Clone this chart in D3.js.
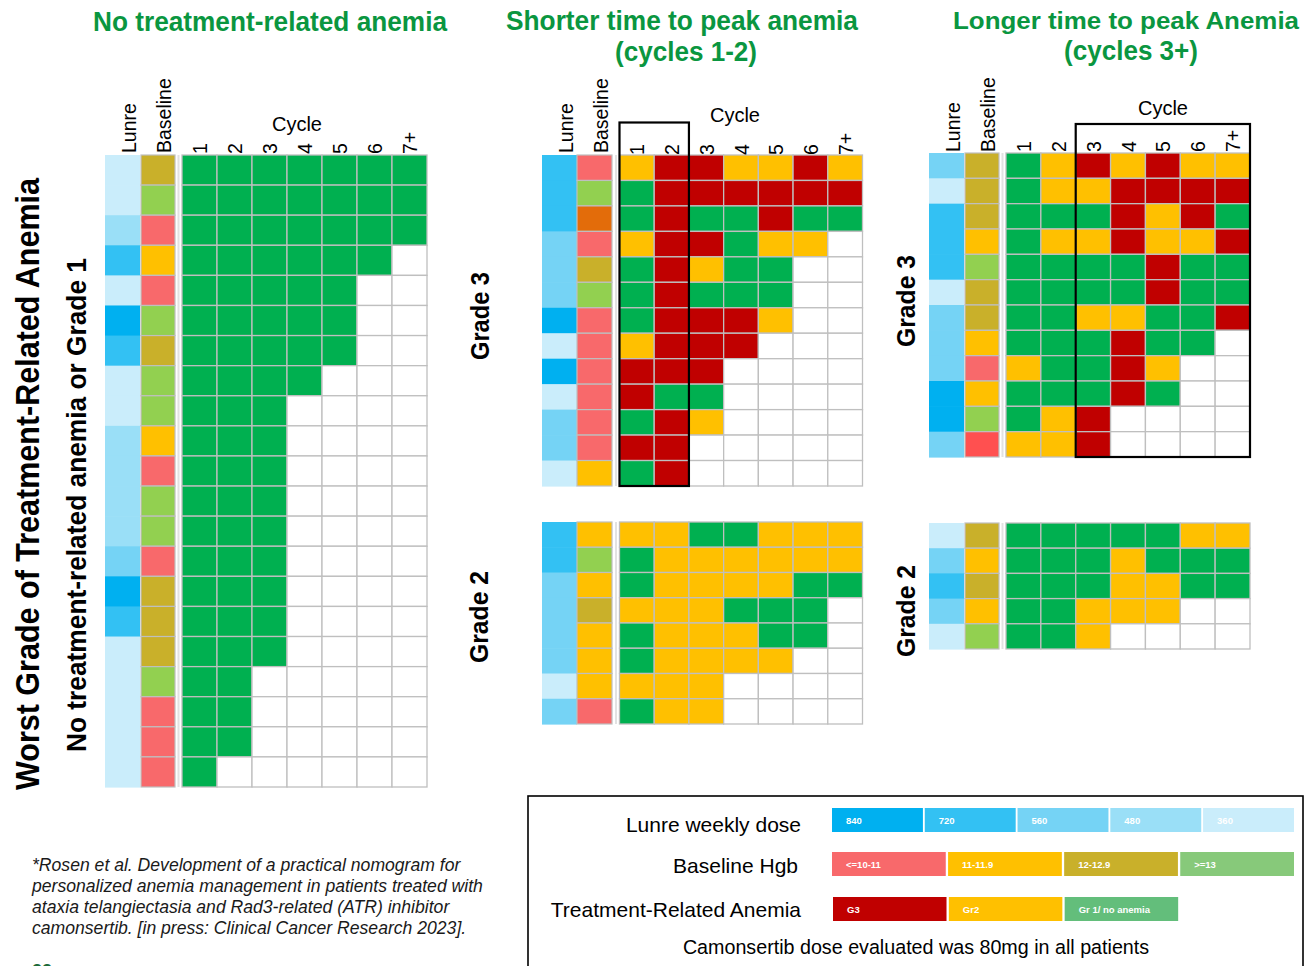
<!DOCTYPE html>
<html>
<head>
<meta charset="utf-8">
<script src="https://cdn.jsdelivr.net/npm/d3@7"></script>
<style>
  html, body { margin: 0; padding: 0; background: #fff; }
  svg { display: block; font-family: "Liberation Sans", Arial, sans-serif; }
</style>
</head>
<body>
<svg id="chart" width="1306" height="966"></svg>
<script>
// ---- Category levels ----
const cycles = ["1", "2", "3", "4", "5", "6", "7+"];
const doseLevels = [840, 720, 560, 480, 360];
const hgbLevels = ["<=10-11", "11-11.9", "12-12.9", ">=13"];
const gradeLevels = ["G3", "Gr2", "Gr 1/ no anemia"];

// Baseline Hgb codes: A <=10-11, B 11-11.9, C 12-12.9, D >=13, E / F off-scale entries
// Grade codes per cycle: "3" = G3, "2" = Gr2, "1" = Gr1 / none; string length = cycles observed

// No treatment-related anemia
const noneDose = [360, 360, 480, 720, 360, 840, 720, 360, 360, 480, 480, 480, 480, 560, 840, 720, 360, 360, 360, 360, 360];
const noneHgb = ["C", "D", "A", "B", "A", "D", "C", "D", "D", "B", "A", "D", "D", "A", "C", "C", "C", "D", "A", "A", "A"];
const noneGrades = ["1111111", "1111111", "1111111", "111111", "11111", "11111", "11111", "1111", "111", "111", "111", "111", "111", "111", "111", "111", "111", "11", "11", "11", "1"];

// Shorter time to peak anemia, grade 3
const earlyG3Dose = [720, 720, 720, 560, 560, 560, 840, 360, 840, 360, 560, 560, 360];
const earlyG3Hgb = ["A", "D", "E", "A", "C", "D", "A", "A", "A", "A", "A", "A", "B"];
const earlyG3Grades = ["2332232", "1333333", "1311311", "233122", "13211", "13111", "13332", "2333", "333", "311", "132", "33", "13"];

// Shorter time to peak anemia, grade 2
const earlyG2Dose = [720, 720, 560, 560, 560, 560, 360, 560];
const earlyG2Hgb = ["B", "D", "B", "C", "B", "B", "B", "A"];
const earlyG2Grades = ["2211222", "1222222", "1222211", "222111", "122211", "12222", "222", "122"];

// Longer time to peak anemia, grade 3
const lateG3Dose = [560, 360, 720, 720, 720, 360, 560, 560, 560, 840, 840, 560];
const lateG3Hgb = ["C", "C", "C", "B", "D", "C", "C", "B", "A", "B", "D", "F"];
const lateG3Grades = ["1232322", "1223333", "1113231", "1223223", "1111311", "1111311", "1122113", "111311", "21132", "11131", "123", "223"];

// Longer time to peak anemia, grade 2
const lateG2Dose = [360, 560, 720, 560, 360];
const lateG2Hgb = ["C", "B", "C", "B", "D"];
const lateG2Grades = ["1111122", "1112111", "1112211", "11222", "112"];

// ---- Colour scales ----
const doseColor = d3.scaleOrdinal().domain(doseLevels)
  .range(["#00B0F0", "#33C1F3", "#75D3F5", "#9ADFF7", "#CAEDFB"]);
const hgbColor = d3.scaleOrdinal().domain(["A", "B", "C", "D", "E", "F"])
  .range(["#F8696B", "#FFC000", "#C9B02A", "#92D050", "#E36C0A", "#FF5050"]);
const gradeColor = d3.scaleOrdinal().domain(["3", "2", "1"])
  .range(["#C00000", "#FFC000", "#00B050"]);
const legendHgbColor = d3.scaleOrdinal().domain(hgbLevels)
  .range(["#F8696B", "#FFC000", "#C9B02A", "#87C97A"]);
const legendGradeColor = d3.scaleOrdinal().domain(gradeLevels)
  .range(["#C00000", "#FFC000", "#63BE7B"]);

const svg = d3.select("#chart");
const GRID = "#BFBFBF";
const TITLE_GREEN = "#0A9640";

// ---- Heat-map panel ----
function drawPanel(cfg, dose, hgb, grades) {
  const g = svg.append("g");
  const y = d3.scaleBand().domain(d3.range(dose.length)).range([cfg.y0, cfg.y1]);
  const x = d3.scaleBand().domain(cycles).range([cfg.gx0, cfg.gx1]);

  // Lunre weekly dose strip
  g.append("g").selectAll("rect").data(dose).join("rect")
    .attr("x", cfg.lx).attr("width", cfg.lw)
    .attr("y", (d, i) => y(i)).attr("height", y.bandwidth() + 0.6)
    .attr("fill", d => doseColor(d));

  // Baseline Hgb strip
  g.append("g").selectAll("rect").data(hgb).join("rect")
    .attr("x", cfg.bx).attr("width", cfg.bw)
    .attr("y", (d, i) => y(i)).attr("height", y.bandwidth())
    .attr("fill", d => hgbColor(d))
    .attr("stroke", GRID).attr("stroke-width", 1.2);

  // separator between strips and cycle grid
  g.append("line")
    .attr("x1", cfg.gx0 - 3.5).attr("x2", cfg.gx0 - 3.5)
    .attr("y1", cfg.y0).attr("y2", cfg.y1)
    .attr("stroke", "#E2E2E2").attr("stroke-width", 2);

  // cycle grid
  const cells = grades.flatMap((s, i) => cycles.map((c, j) => ({ row: i, cycle: c, grade: s[j] || null })));
  g.append("g").selectAll("rect").data(cells).join("rect")
    .attr("x", d => x(d.cycle)).attr("width", x.bandwidth())
    .attr("y", d => y(d.row)).attr("height", y.bandwidth())
    .attr("fill", d => d.grade ? gradeColor(d.grade) : "#FFFFFF")
    .attr("stroke", GRID).attr("stroke-width", 1.3);

  return { x, y, g };
}

function drawHeaders(cfg, x) {
  const g = svg.append("g").attr("fill", "#000").style("font-size", "19.5px");
  const rot = (txt, cx, by) => g.append("text")
    .attr("transform", `translate(${cx},${by}) rotate(-90)`)
    .attr("text-anchor", "start").text(txt);
  rot("Lunre", cfg.lx + cfg.lw / 2 + 13, cfg.hy);
  rot("Baseline", cfg.bx + cfg.bw / 2 + 13, cfg.hy);
  cycles.forEach(c => rot(c, x(c) + x.bandwidth() / 2 + 7.5, cfg.ny));
  g.append("text").attr("x", cfg.cycleX).attr("y", cfg.cycleY)
    .attr("text-anchor", "middle").style("font-size", "20px").text("Cycle");
}

function drawBox(x, c0, c1, top, bottom) {
  svg.append("rect")
    .attr("x", x(c0)).attr("y", top)
    .attr("width", x(c1) + x.bandwidth() - x(c0)).attr("height", bottom - top)
    .attr("fill", "none").attr("stroke", "#000").attr("stroke-width", 2.2);
}

function rotLabel(txt, bx, cy, size, len) {
  const t = svg.append("text")
    .attr("transform", `translate(${bx},${cy}) rotate(-90)`)
    .attr("text-anchor", "middle").attr("font-weight", "bold")
    .style("font-size", size + "px").attr("fill", "#000").text(txt);
  if (len) t.attr("textLength", len).attr("lengthAdjust", "spacingAndGlyphs");
}

// ---- Panels ----
const leftCfg = { lx: 105, lw: 35, bx: 141, bw: 34, gx0: 182, gx1: 427, y0: 155, y1: 787, hy: 153, ny: 154, cycleX: 297, cycleY: 131 };
const left = drawPanel(leftCfg, noneDose, noneHgb, noneGrades);
drawHeaders(leftCfg, left.x);

const midG3Cfg = { lx: 542, lw: 35, bx: 577, bw: 35, gx0: 619.5, gx1: 862.5, y0: 155, y1: 486, hy: 153, ny: 155, cycleX: 735, cycleY: 122 };
const midG3 = drawPanel(midG3Cfg, earlyG3Dose, earlyG3Hgb, earlyG3Grades);
drawHeaders(midG3Cfg, midG3.x);
drawBox(midG3.x, "1", "2", 122.5, 486);

const midG2Cfg = { lx: 542, lw: 35, bx: 577, bw: 35, gx0: 619.5, gx1: 862.5, y0: 522, y1: 724 };
drawPanel(midG2Cfg, earlyG2Dose, earlyG2Hgb, earlyG2Grades);

const rightG3Cfg = { lx: 929, lw: 35, bx: 965, bw: 34, gx0: 1006, gx1: 1250, y0: 153, y1: 457, hy: 152, ny: 152, cycleX: 1163, cycleY: 115 };
const rightG3 = drawPanel(rightG3Cfg, lateG3Dose, lateG3Hgb, lateG3Grades);
drawHeaders(rightG3Cfg, rightG3.x);
drawBox(rightG3.x, "3", "7+", 124, 457);

const rightG2Cfg = { lx: 929, lw: 35, bx: 965, bw: 34, gx0: 1006, gx1: 1250, y0: 523, y1: 649 };
drawPanel(rightG2Cfg, lateG2Dose, lateG2Hgb, lateG2Grades);

// ---- Titles ----
const titles = svg.append("g").attr("fill", TITLE_GREEN).attr("font-weight", "bold")
  .attr("text-anchor", "middle");
[["No treatment-related anemia", 270, 31, 354, 27],
 ["Shorter time to peak anemia", 682, 30, 352, 27],
 ["(cycles 1-2)", 686, 61, 142, 27],
 ["Longer time to peak Anemia", 1126, 29, 346, 24.5],
 ["(cycles 3+)", 1131, 60, 134, 27]]
  .forEach(([t, x, y, len, size]) => titles.append("text").attr("x", x).attr("y", y)
    .style("font-size", size + "px")
    .attr("textLength", len).attr("lengthAdjust", "spacingAndGlyphs").text(t));

rotLabel("Worst Grade of Treatment-Related Anemia", 39, 484, 33, 612);
rotLabel("No treatment-related anemia or Grade 1", 86, 505, 27, 494);
rotLabel("Grade 3", 489, 316, 25, 88);
rotLabel("Grade 2", 488, 617, 25, 92);
rotLabel("Grade 3", 915, 301, 25, 92);
rotLabel("Grade 2", 915, 611, 25, 92);

// ---- Footnote ----
const foot = svg.append("g").attr("fill", "#1a1a1a").attr("font-style", "italic").style("font-size", "17.6px");
["*Rosen et al. Development of a practical nomogram for",
 "personalized anemia management in patients treated with",
 "ataxia telangiectasia and Rad3-related (ATR) inhibitor",
 "camonsertib. [in press: Clinical Cancer Research 2023]."]
  .forEach((t, i) => foot.append("text").attr("x", 32).attr("y", 871 + i * 21).text(t));
svg.append("text").attr("x", 32).attr("y", 977).attr("fill", "#1E6B3A")
  .attr("font-weight", "bold").style("font-size", "18px").text("22");

// ---- Legend ----
const lg = svg.append("g");
lg.append("rect").attr("x", 528).attr("y", 796).attr("width", 775).attr("height", 190)
  .attr("fill", "#fff").attr("stroke", "#000").attr("stroke-width", 1.6);

const lgText = lg.append("g").attr("fill", "#000").attr("text-anchor", "end").style("font-size", "21px");
lgText.append("text").attr("x", 801).attr("y", 832).text("Lunre weekly dose");
lgText.append("text").attr("x", 798).attr("y", 873).text("Baseline Hgb");
lgText.append("text").attr("x", 801).attr("y", 917).text("Treatment-Related Anemia");
lg.append("text").attr("x", 916).attr("y", 954).attr("text-anchor", "middle")
  .style("font-size", "19.7px").attr("fill", "#000")
  .text("Camonsertib dose evaluated was 80mg in all patients");

function legendRow(levels, color, x0, x1, slots, top, labelColor) {
  const xs = d3.scaleBand().domain(d3.range(slots)).range([x0, x1]).paddingInner(0.02);
  const row = lg.append("g");
  row.selectAll("rect").data(levels).join("rect")
    .attr("x", (d, i) => xs(i)).attr("width", xs.bandwidth())
    .attr("y", top).attr("height", 24).attr("fill", d => color(d));
  row.selectAll("text").data(levels).join("text")
    .attr("x", (d, i) => xs(i) + 14).attr("y", top + 16)
    .attr("fill", labelColor).attr("font-weight", "bold")
    .style("font-size", "9.5px").text(d => d);
}
legendRow(doseLevels, doseColor, 832, 1294, 5, 808, "#FFFFFF");
legendRow(hgbLevels, legendHgbColor, 832, 1294, 4, 852, "#FFFFFF");
legendRow(gradeLevels, legendGradeColor, 833, 1294, 4, 897, "#FFFFFF");
</script>
</body>
</html>
